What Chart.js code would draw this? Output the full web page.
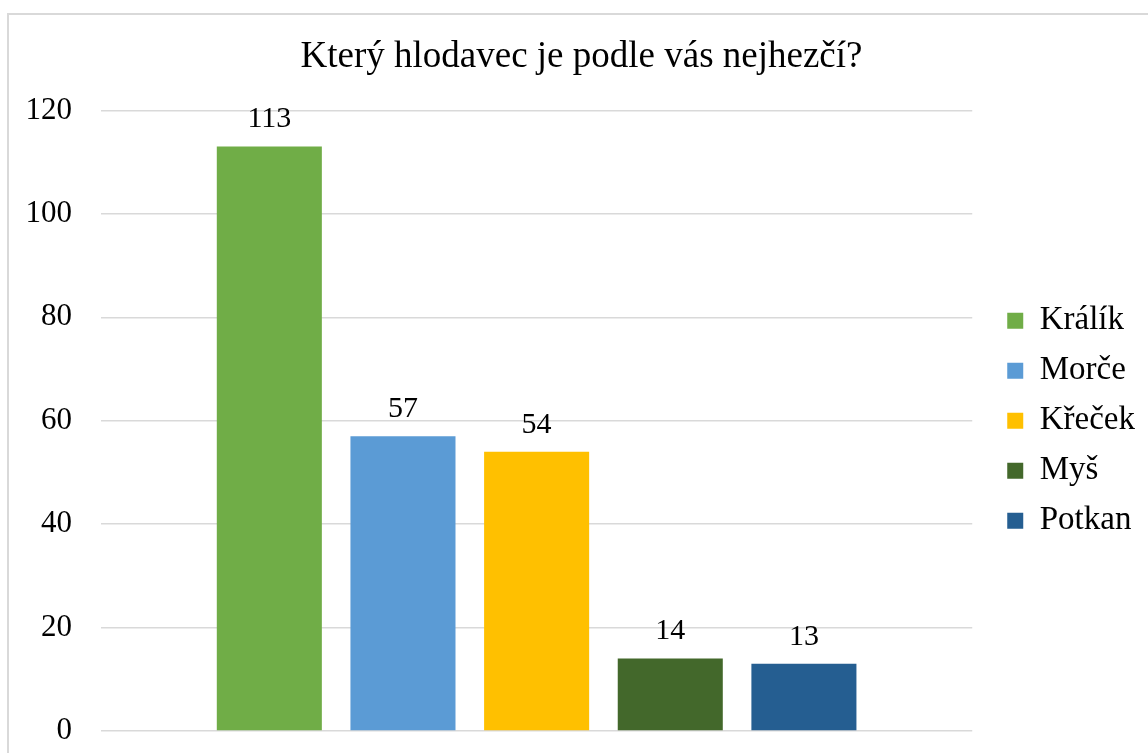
<!DOCTYPE html>
<html>
<head>
<meta charset="utf-8">
<script src="https://cdn.jsdelivr.net/npm/chart.js@4/dist/chart.umd.min.js"></script>
<style>
  html, body { margin: 0; padding: 0; background: #fff; overflow: hidden; }
  #frame { position: absolute; left: 7px; top: 13px; width: 1200px; height: 800px; border: 2px solid #d9d9d9; }
  #wrap { position: absolute; left: 0; top: 0; width: 1162px; height: 753px; }
</style>
</head>
<body>
<div id="frame"></div>
<div id="wrap"><canvas id="chart" width="1162" height="753"></canvas></div>
<script>
const chartTitle = 'Který hlodavec je podle vás nejhezčí?';
const categories = [''];
const seriesNames = ['Králík', 'Morče', 'Křeček', 'Myš', 'Potkan'];
const seriesValues = [113, 57, 54, 14, 13];
const seriesColors = ['#70AD47', '#5B9BD5', '#FFC000', '#43682B', '#255E91'];
const yMin = 0;
const yMax = 120;
const yStep = 20;

const serif = '"Liberation Serif", "Times New Roman", serif';

// value labels above bars
const valueLabels = {
  id: 'valueLabels',
  afterDatasetsDraw(chart) {
    const ctx = chart.ctx;
    ctx.save();
    ctx.font = '30px ' + serif;
    ctx.fillStyle = '#000';
    ctx.textAlign = 'center';
    ctx.textBaseline = 'bottom';
    chart.data.datasets.forEach((ds, i) => {
      const meta = chart.getDatasetMeta(i);
      meta.data.forEach((bar, j) => {
        ctx.fillText(String(ds.data[j]), bar.x, bar.y - 12);
      });
    });
    ctx.restore();
  }
};

const datasets = seriesNames.map((name, i) => ({
  label: name,
  data: [seriesValues[i]],
  backgroundColor: seriesColors[i],
  borderWidth: 0
}));

new Chart(document.getElementById('chart'), {
  type: 'bar',
  data: { labels: categories, datasets },
  options: {
    responsive: false,
    animation: false,
    layout: { padding: { left: 18, right: 17, top: 0, bottom: 22 } },
    datasets: { bar: { categoryPercentage: 0.767, barPercentage: 0.786 } },
    plugins: {
      title: {
        display: true,
        text: chartTitle,
        color: '#000',
        font: { family: serif, size: 37, weight: 'normal' },
        padding: { top: 35, bottom: 31 }
      },
      legend: {
        position: 'right',
        fullSize: false,
        labels: {
          color: '#000',
          font: { family: serif, size: 33 },
          boxWidth: 16,
          boxHeight: 16,
          padding: 17
        }
      },
      tooltip: { enabled: false }
    },
    scales: {
      x: {
        display: false
      },
      y: {
        min: yMin,
        max: yMax,
        ticks: {
          stepSize: yStep,
          color: '#000',
          padding: 29,
          font: { family: serif, size: 31 }
        },
        grid: { color: '#d9d9d9', lineWidth: 1.5, drawTicks: false },
        border: { display: false },
        afterFit: s => { s.width = 83; s.paddingTop = 0; s.paddingBottom = 0; }
      },
      gap: {
        position: 'right',
        display: true,
        ticks: { display: false },
        grid: { display: false },
        border: { display: false },
        afterFit: s => { s.width = 18; s.paddingTop = 0; s.paddingBottom = 0; }
      }
    }
  },
  plugins: [valueLabels]
});
</script>
</body>
</html>
